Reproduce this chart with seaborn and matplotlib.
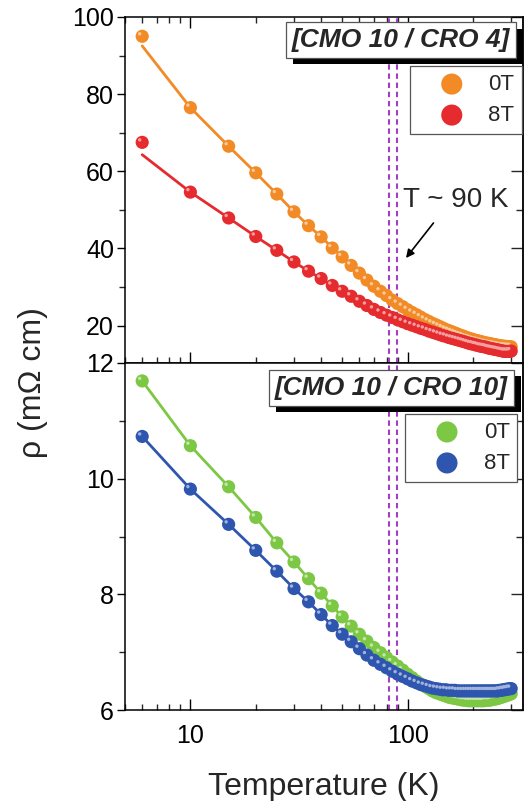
import numpy as np
import pandas as pd
import matplotlib
matplotlib.use("Agg")
import matplotlib.pyplot as plt
import matplotlib.transforms as mtransforms
import matplotlib.patheffects as pe
from matplotlib.ticker import FixedLocator, NullFormatter
import seaborn as sns

# ---------------- data ----------------
temperature = [6, 10, 15, 20, 25, 30, 35, 40, 45, 50, 55, 60, 65, 70, 75, 80, 85, 90, 95, 100,
               105, 110, 115, 120, 125, 130, 135, 140, 145, 150, 155, 160, 165, 170, 175, 180,
               185, 190, 195, 200, 205, 210, 215, 220, 225, 230, 235, 240, 245, 250, 255, 260,
               265, 270, 275, 280, 285, 290, 295, 300]

# [CMO 10 / CRO 4]
rho_cro4_0T = [95.0, 76.5, 66.5, 59.6, 54.1, 49.5, 45.9, 43.0, 40.1, 37.8, 35.6, 33.6, 31.8, 30.2,
               28.9, 27.8, 26.6, 25.7, 24.9, 24.1, 23.4, 22.8, 22.2, 21.6, 21.1, 20.6, 20.2, 19.8,
               19.4, 19.0, 18.7, 18.4, 18.1, 17.8, 17.5, 17.3, 17.0, 16.8, 16.6, 16.4, 16.2, 16.1,
               15.9, 15.8, 15.6, 15.5, 15.4, 15.3, 15.2, 15.1, 15.0, 14.9, 14.8, 14.7, 14.7, 14.6,
               14.6, 14.5, 14.5, 14.5]
rho_cro4_8T = [67.5, 54.6, 47.9, 43.1, 39.5, 36.5, 34.1, 32.2, 30.4, 28.9, 27.6, 26.3, 25.2, 24.2,
               23.4, 22.7, 22.1, 21.5, 21.0, 20.5, 20.1, 19.7, 19.3, 19.0, 18.6, 18.3, 18.0, 17.7,
               17.4, 17.2, 16.9, 16.7, 16.5, 16.3, 16.1, 15.9, 15.7, 15.5, 15.3, 15.2, 15.0, 14.9,
               14.7, 14.6, 14.5, 14.4, 14.2, 14.1, 14.0, 13.9, 13.8, 13.7, 13.6, 13.5, 13.4, 13.3,
               13.3, 13.3, 13.3, 13.4]

# fit lines (top panel)
temperature_fit = [6, 10, 15, 20, 25, 30, 35, 40, 50, 60, 70, 80, 90, 100, 120, 150, 200, 250, 300]
fit_cro4_0T = [92.5, 76.5, 66.5, 59.6, 54.1, 49.5, 45.9, 43.0, 37.8, 33.6, 30.2, 27.8, 25.7, 24.1,
               21.6, 19.0, 16.4, 15.1, 14.5]
fit_cro4_8T = [64.3, 54.6, 47.9, 43.1, 39.5, 36.5, 34.1, 32.2, 28.9, 26.3, 24.2, 22.7, 21.5, 20.5,
               19.0, 17.2, 15.2, 13.9, 13.4]

# [CMO 10 / CRO 10]
rho_cro10_0T = [11.69, 10.57, 9.86, 9.33, 8.89, 8.56, 8.27, 8.02, 7.80, 7.61, 7.45, 7.31, 7.19, 7.08,
                6.99, 6.91, 6.83, 6.76, 6.69, 6.62, 6.56, 6.50, 6.45, 6.41, 6.37, 6.33, 6.30, 6.28,
                6.26, 6.24, 6.22, 6.21, 6.20, 6.19, 6.18, 6.17, 6.17, 6.16, 6.16, 6.16, 6.16, 6.16,
                6.16, 6.16, 6.16, 6.17, 6.17, 6.17, 6.18, 6.19, 6.19, 6.20, 6.21, 6.22, 6.23, 6.24,
                6.25, 6.26, 6.27, 6.28]
rho_cro10_8T = [10.73, 9.82, 9.21, 8.76, 8.40, 8.10, 7.87, 7.65, 7.46, 7.31, 7.18, 7.06, 6.95, 6.86,
                6.79, 6.73, 6.67, 6.62, 6.58, 6.54, 6.50, 6.47, 6.44, 6.42, 6.40, 6.38, 6.37, 6.36,
                6.35, 6.35, 6.34, 6.34, 6.34, 6.33, 6.33, 6.33, 6.33, 6.33, 6.33, 6.33, 6.33, 6.33,
                6.33, 6.33, 6.33, 6.33, 6.33, 6.33, 6.33, 6.33, 6.33, 6.33, 6.34, 6.34, 6.35, 6.35,
                6.36, 6.36, 6.37, 6.37]

transition_lines = [82.5, 89]
field_labels = ["0T", "8T"]
panel_titles = ["[CMO 10 / CRO 4]", "[CMO 10 / CRO 10]"]
annotation_text = "T ~ 90 K"
xtick_values = [10, 100]
xtick_labels = ["10", "100"]
top_yticks = [20, 40, 60, 80, 100]
top_yminor = [30, 50, 70, 90]
bot_yticks = [6, 8, 10, 12]
bot_yminor = [7, 9, 11]

# ---------------- style ----------------
sns.set_theme(style="ticks")
plt.rcParams["font.family"] = ["Liberation Sans", "DejaVu Sans"]
plt.rcParams["axes.linewidth"] = 1.1

c_orange = "#F28A25"
c_red = "#E52B2E"
c_green = "#7CC744"
c_blue = "#2F56AE"
c_purple = "#A23FC2"

df_top = pd.DataFrame({"T": temperature, "0T": rho_cro4_0T, "8T": rho_cro4_8T})
df_top_fit = pd.DataFrame({"T": temperature_fit, "0T": fit_cro4_0T, "8T": fit_cro4_8T})
df_bot = pd.DataFrame({"T": temperature, "0T": rho_cro10_0T, "8T": rho_cro10_8T})

W, H = 528, 801
fig = plt.figure(figsize=(W / 100, H / 100), dpi=100)
ax_left, ax_right = 125, 523
ax1 = fig.add_axes([ax_left / W, 1 - 363 / H, (ax_right - ax_left) / W, 346 / H])
ax2 = fig.add_axes([ax_left / W, 1 - 710 / H, (ax_right - ax_left) / W, 347 / H])

hl_offset = mtransforms.ScaledTranslation(-1.8 / 72, 1.8 / 72, fig.dpi_scale_trans)


def lighten(c, f=0.55):
    r = np.array(matplotlib.colors.to_rgb(c))
    return tuple(r + (1 - r) * f)


def draw_series(ax, df, col, color, label, line_df=None):
    ldf = df if line_df is None else line_df
    sns.lineplot(data=ldf, x="T", y=col, ax=ax, color=color, lw=2.0, zorder=2,
                 legend=False, sort=True)
    sns.scatterplot(data=df, x="T", y=col, ax=ax, color=color, s=90, edgecolor="none",
                    linewidth=0, zorder=3, label=label)
    ax.scatter(df["T"], df[col], s=6, color=lighten(color), edgecolor="none", zorder=3,
               transform=ax.transData + hl_offset, label="_nolegend_")


for ax in (ax1, ax2):
    ax.set_xscale("log")

draw_series(ax1, df_top, "0T", c_orange, field_labels[0], df_top_fit)
draw_series(ax1, df_top, "8T", c_red, field_labels[1], df_top_fit)
draw_series(ax2, df_bot, "0T", c_green, field_labels[0])
draw_series(ax2, df_bot, "8T", c_blue, field_labels[1])

for ax in (ax1, ax2):
    ax.set_xlim(5, 340)
    for tl in transition_lines:
        ax.axvline(tl, color=c_purple, lw=1.5, dashes=(2.6, 1.8), zorder=1)
    ax.set_xlabel("")
    ax.set_ylabel("")
    for s in ax.spines.values():
        s.set_color("black")
        s.set_linewidth(1.1)
        s.set_visible(True)

ax1.set_ylim(10.3, 100)
ax2.set_ylim(6, 12)
ax1.set_yticks(top_yticks)
ax1.yaxis.set_minor_locator(FixedLocator(top_yminor))
ax2.set_yticks(bot_yticks)
ax2.yaxis.set_minor_locator(FixedLocator(bot_yminor))

for ax in (ax1, ax2):
    ax.set_xticks(xtick_values)
    ax.set_xticklabels(xtick_labels)
    ax.xaxis.set_minor_locator(matplotlib.ticker.LogLocator(base=10, subs=np.arange(2, 10)))
    ax.xaxis.set_minor_formatter(NullFormatter())
    ax.tick_params(axis="y", which="major", direction="out", length=6, width=1.0,
                   labelsize=18, pad=2, colors="black", left=True, right=False)
    ax.tick_params(axis="y", which="minor", direction="out", length=4, width=1.0, left=True,
                   right=False)
    ax.tick_params(axis="x", which="major", direction="in", length=8, width=1.0,
                   labelsize=18, pad=10, colors="black")
    ax.tick_params(axis="x", which="minor", direction="in", length=4, width=1.0)
    sec = ax.secondary_yaxis("right")
    sec.set_yticks(ax.get_yticks())
    sec.yaxis.set_minor_locator(FixedLocator(top_yminor if ax is ax1 else bot_yminor))
    sec.tick_params(which="major", direction="in", length=9, width=1.0, labelright=False)
    sec.tick_params(which="minor", direction="in", length=5, width=1.0)
    sec.spines["right"].set_linewidth(1.1)

ax1.tick_params(axis="x", which="both", top=True, bottom=True, labelbottom=False)
ax2.tick_params(axis="x", which="both", top=False, bottom=True, labelbottom=True)

ax2.set_xlabel("Temperature (K)", fontsize=23, labelpad=17)
fig.text(33 / W, 1 - 383 / H, "ρ (mΩ cm)", rotation=90, ha="center", va="center",
         fontsize=23)

# panel title boxes with shadow
for ax, title, xr, yc in ((ax1, panel_titles[0], 0.968, 0.933), (ax2, panel_titles[1], 0.962, 0.928)):
    t = ax.text(xr, yc, title, transform=ax.transAxes, ha="right", va="center",
                fontsize=19, fontweight="bold", fontstyle="italic", zorder=6,
                bbox=dict(boxstyle="square,pad=0.22", facecolor="white", edgecolor="#555555",
                          linewidth=0.9))
    t.get_bbox_patch().set_path_effects([
        pe.SimplePatchShadow(offset=(5, -4.5), shadow_rgbFace="black", alpha=1.0), pe.Normal()])

# legends
for ax, anchor in ((ax1, (0.998, 0.858)), (ax2, (0.986, 0.853))):
    h, l = ax.get_legend_handles_labels()
    leg = ax.legend(h, l, loc="upper right", bbox_to_anchor=anchor, fontsize=16,
                    markerscale=1.6, frameon=True, fancybox=False, edgecolor="#555555",
                    framealpha=1, borderpad=0.35, handletextpad=0.1, labelspacing=0.45,
                    handlelength=3.1, borderaxespad=0)
    leg.get_frame().set_linewidth(0.9)
    leg.set_zorder(6)

# annotation T ~ 90 K with arrow
ax1.annotate(annotation_text, xy=(0.709, (363 - 258) / 346), xycoords="axes fraction",
             xytext=(0.698, (363 - 200) / 346), textcoords="axes fraction",
             fontsize=20, ha="left", va="center", zorder=6)
ax1.annotate("", xy=(0.706, (363 - 258) / 346), xycoords="axes fraction",
             xytext=(0.775, (363 - 223) / 346), textcoords="axes fraction",
             arrowprops=dict(arrowstyle="-|>", color="black", lw=1.2, mutation_scale=12,
                             shrinkA=0, shrinkB=0), zorder=6)

fig.savefig("out.png", dpi=100)
